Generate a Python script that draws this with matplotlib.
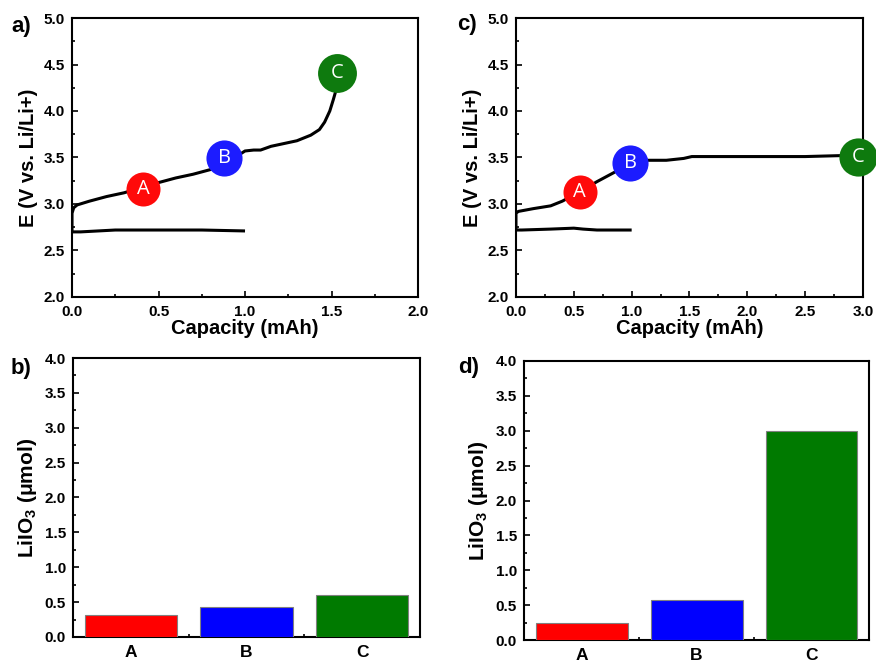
import matplotlib
matplotlib.use("Agg")
import matplotlib.pyplot as plt
from matplotlib.ticker import MultipleLocator, FixedLocator, FormatStrFormatter

plt.rcParams['font.family'] = ['Liberation Sans', 'DejaVu Sans']
plt.rcParams['mathtext.default'] = 'regular'

# --- Panel a: voltage profile, first cell ---
a_dis_x = [0.0, 0.05, 0.25, 0.5, 0.75, 1.0]
a_dis_y = [2.70, 2.70, 2.72, 2.72, 2.72, 2.71]
a_chg_x = [0.0, 0.0, 0.01, 0.03, 0.10, 0.20, 0.30, 0.41, 0.50, 0.60, 0.70, 0.80,
           0.88, 0.95, 1.00, 1.05, 1.09, 1.15, 1.20, 1.30, 1.38, 1.43, 1.46,
           1.49, 1.51, 1.53]
a_chg_y = [2.70, 2.90, 2.96, 2.99, 3.03, 3.08, 3.12, 3.18, 3.23, 3.28, 3.32, 3.37,
           3.43, 3.51, 3.57, 3.58, 3.58, 3.62, 3.64, 3.68, 3.74, 3.80, 3.88,
           4.00, 4.12, 4.25]
a_pts_x = [0.41, 0.88, 1.53]
a_pts_y = [3.16, 3.49, 4.41]

# --- Panel c: voltage profile, second cell ---
c_dis_x = [0.0, 0.05, 0.30, 0.50, 0.58, 0.70, 1.00]
c_dis_y = [2.72, 2.72, 2.73, 2.74, 2.73, 2.72, 2.72]
c_chg_x = [0.0, 0.0, 0.02, 0.15, 0.30, 0.40, 0.55, 0.70, 0.85, 0.99, 1.10, 1.30,
           1.45, 1.52, 1.70, 2.00, 2.50, 2.80, 2.96]
c_chg_y = [2.71, 2.90, 2.92, 2.95, 2.98, 3.03, 3.13, 3.24, 3.34, 3.44, 3.47, 3.47,
           3.49, 3.51, 3.51, 3.51, 3.51, 3.52, 3.52]
c_pts_x = [0.55, 0.99, 2.96]
c_pts_y = [3.13, 3.44, 3.51]

# --- Panels b, d: LiIO3 amounts ---
labels = ['A', 'B', 'C']
b_vals = [0.32, 0.43, 0.60]
d_vals = [0.25, 0.58, 3.00]

colors = ['#ff0000', '#0000ff', '#007a00']
pt_colors = ['#ff0a0a', '#1c1cff', '#0e7a0e']
a_sizes = [24.5, 26, 28]
c_sizes = [24.5, 26, 27.5]

fig = plt.figure(figsize=(8.76, 6.62), dpi=100)

ax_a = fig.add_axes([0.0822, 0.5514, 0.3950, 0.4214])
ax_c = fig.add_axes([0.5890, 0.5514, 0.3962, 0.4214])
ax_b = fig.add_axes([0.0833, 0.0378, 0.3962, 0.4214])
ax_d = fig.add_axes([0.5982, 0.0332, 0.3938, 0.4215])

TICK_SIZE = 11
LABEL_SIZE = 14.5


def style_axes(ax):
    for s in ax.spines.values():
        s.set_linewidth(1.5)
    ax.tick_params(which='both', direction='in', top=False, right=False,
                   width=1.2, labelsize=TICK_SIZE)
    ax.tick_params(axis='x', which='major', pad=6)
    ax.tick_params(axis='y', which='major', pad=5)
    ax.tick_params(which='major', length=4)
    ax.tick_params(which='minor', length=2.5)
    for lab in ax.get_xticklabels() + ax.get_yticklabels():
        lab.set_fontweight('bold')


def voltage_panel(ax, dx, dy, cx, cy, px, py, sizes, xmax, letter, lx, ly):
    ax.plot(dx, dy, color='black', lw=2.2, solid_capstyle='butt')
    ax.plot(cx, cy, color='black', lw=2.2, solid_capstyle='butt')
    for x, y, c, ms, t in zip(px, py, pt_colors, sizes, labels):
        ax.plot([x], [y], 'o', ms=ms, color=c, mec='none', zorder=5, clip_on=False)
        ax.text(x, y, t, color='white', fontsize=14.5, family='Open Sans',
                ha='center', va='center', zorder=6)
    ax.set_xlim(0, xmax)
    ax.set_ylim(2.0, 5.0)
    ax.xaxis.set_major_locator(MultipleLocator(0.5))
    ax.xaxis.set_minor_locator(MultipleLocator(0.25))
    ax.yaxis.set_major_locator(MultipleLocator(0.5))
    ax.yaxis.set_minor_locator(MultipleLocator(0.25))
    ax.xaxis.set_major_formatter(FormatStrFormatter('%.1f'))
    ax.yaxis.set_major_formatter(FormatStrFormatter('%.1f'))
    ax.set_xlabel('Capacity (mAh)', fontsize=LABEL_SIZE, fontweight='bold', labelpad=0)
    ax.set_ylabel('E (V vs. Li/Li+)', fontsize=LABEL_SIZE, fontweight='bold', labelpad=4)
    style_axes(ax)
    ax.text(lx, ly, letter, transform=ax.transAxes, fontsize=16,
            fontweight='bold', ha='center', va='center')


def bar_panel(ax, vals, letter, lx, ly):
    pos = [1, 2, 3]
    ax.bar(pos, vals, width=0.8, color=colors, edgecolor='#808080', lw=0.8, zorder=3)
    ax.set_xlim(0.5, 3.5)
    ax.set_ylim(0, 4.0)
    ax.xaxis.set_major_locator(FixedLocator(pos))
    ax.set_xticklabels(labels)
    ax.xaxis.set_minor_locator(FixedLocator([1.5, 2.5]))
    ax.yaxis.set_major_locator(MultipleLocator(0.5))
    ax.yaxis.set_minor_locator(MultipleLocator(0.25))
    ax.yaxis.set_major_formatter(FormatStrFormatter('%.1f'))
    ax.set_ylabel('LiIO$_3$ (\u03bcmol)', fontsize=15, fontweight='bold', labelpad=4)
    style_axes(ax)
    ax.tick_params(axis='x', which='major', length=0, pad=6, labelsize=12.5)
    ax.text(lx, ly, letter, transform=ax.transAxes, fontsize=16,
            fontweight='bold', ha='center', va='center')


voltage_panel(ax_a, a_dis_x, a_dis_y, a_chg_x, a_chg_y, a_pts_x, a_pts_y,
              a_sizes, 2.0, 'a)', -0.148, 0.968)
voltage_panel(ax_c, c_dis_x, c_dis_y, c_chg_x, c_chg_y, c_pts_x, c_pts_y,
              c_sizes, 3.0, 'c)', -0.141, 0.975)
bar_panel(ax_b, b_vals, 'b)', -0.150, 0.964)
bar_panel(ax_d, d_vals, 'd)', -0.162, 0.975)

fig.savefig('out.png', dpi=100)
